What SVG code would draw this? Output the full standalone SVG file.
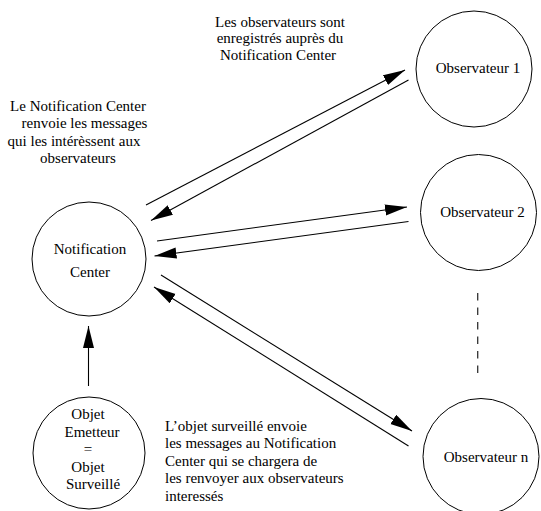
<svg xmlns="http://www.w3.org/2000/svg" width="541" height="511" viewBox="0 0 541 511">
<style>
  .node { fill: #ffffff; stroke: #000000; stroke-width: 1; }
  text { font-family: 'Liberation Serif', 'Times New Roman', Times, 'Nimbus Roman', 'Nimbus Roman No9 L', FreeSerif, 'Noto Serif', Tinos, 'DejaVu Serif', serif; font-size: 15px; fill: #000000; }
  .c { text-anchor: middle; }
  .edge { stroke: #000000; stroke-width: 1.1; fill: none; }
  .dash { stroke: #333333; stroke-width: 1.3; stroke-dasharray: 7.5 7; fill: none; }
</style>
<defs>
  <marker id="arrow" markerUnits="userSpaceOnUse" markerWidth="24" markerHeight="12" refX="22" refY="5.5" orient="auto">
    <path d="M0,0 L22,5.5 L0,11 z" fill="#000000"/>
  </marker>
</defs>
<rect x="0" y="0" width="541" height="511" fill="#ffffff"/>

<g id="connectors">
  <line class="edge" x1="146" y1="205" x2="405" y2="70" marker-end="url(#arrow)"/>
  <line class="edge" x1="408.5" y1="80" x2="151" y2="220.5" marker-end="url(#arrow)"/>
  <line class="edge" x1="157" y1="241" x2="407" y2="207" marker-end="url(#arrow)"/>
  <line class="edge" x1="408.5" y1="221.5" x2="154.5" y2="256" marker-end="url(#arrow)"/>
  <line class="edge" x1="161" y1="275" x2="412" y2="431" marker-end="url(#arrow)"/>
  <line class="edge" x1="408.5" y1="446" x2="154" y2="287" marker-end="url(#arrow)"/>
  <line class="edge" x1="88.5" y1="386" x2="88.5" y2="326" marker-end="url(#arrow)"/>
  <line class="dash" x1="477.7" y1="293" x2="477.7" y2="378"/>
</g>

<g id="notification-center">
  <circle class="node" cx="89" cy="259" r="57"/>
  <text class="c" x="90" y="253.5">Notification</text>
  <text class="c" x="90" y="277">Center</text>
</g>

<g id="objet-emetteur">
  <circle class="node" cx="89" cy="453" r="56"/>
  <text class="c" x="88" y="419">Objet</text>
  <text class="c" x="92" y="436.5">Emetteur</text>
  <text class="c" x="88" y="454">=</text>
  <text class="c" x="88" y="471.5">Objet</text>
  <text class="c" x="93" y="488.5">Surveillé</text>
</g>

<g id="observateur-1">
  <circle class="node" cx="474" cy="69" r="58"/>
  <text class="c" x="478" y="72.5">Observateur 1</text>
</g>

<g id="observateur-2">
  <circle class="node" cx="478.5" cy="212.5" r="58"/>
  <text class="c" x="482.5" y="216.5">Observateur 2</text>
</g>

<g id="observateur-n">
  <circle class="node" cx="481" cy="456.5" r="58"/>
  <text class="c" x="486" y="461.5">Observateur n</text>
</g>

<g id="label-registration">
  <text class="c" x="280" y="26.5">Les observateurs sont</text>
  <text class="c" x="280" y="43">enregistrés auprès du</text>
  <text class="c" x="278" y="59.5">Notification Center</text>
</g>

<g id="label-forward">
  <text class="c" x="78" y="110.5">Le Notification Center</text>
  <text class="c" x="84.5" y="128">renvoie les messages</text>
  <text class="c" x="74" y="145.5">qui les intérèssent aux</text>
  <text class="c" x="78" y="163">observateurs</text>
</g>

<g id="label-send">
  <text x="165" y="430.5">L’objet surveillé envoie</text>
  <text x="165" y="448">les messages au Notification</text>
  <text x="165" y="465.5">Center qui se chargera de</text>
  <text x="165" y="483">les renvoyer aux observateurs</text>
  <text x="165" y="500.5">interessés</text>
</g>
</svg>
